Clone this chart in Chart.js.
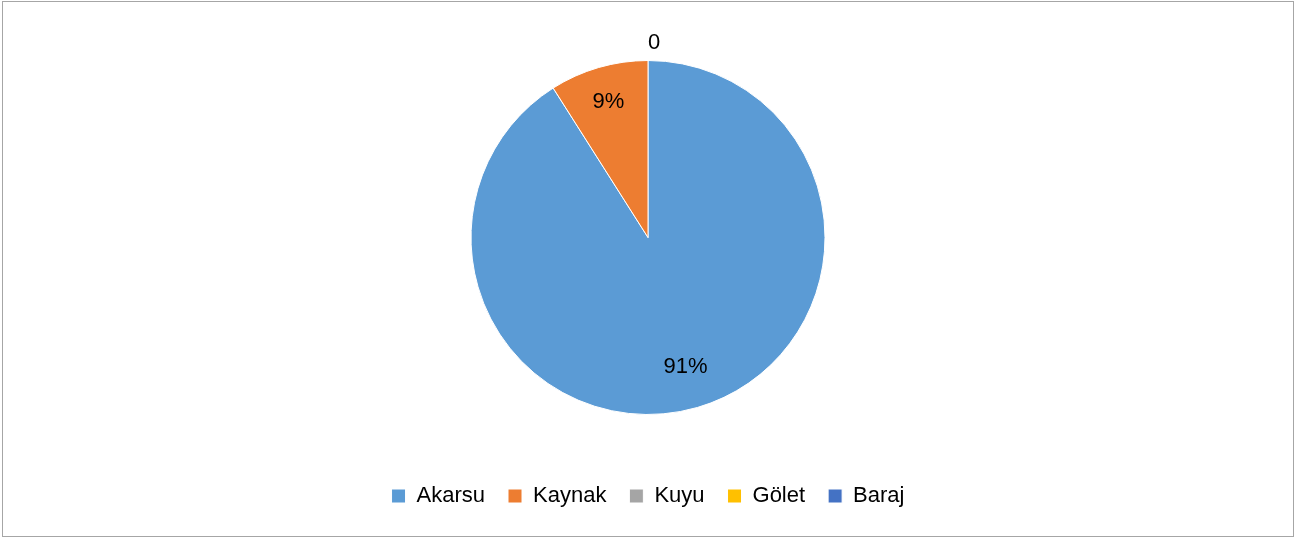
<!DOCTYPE html>
<html>
<head>
<meta charset="utf-8">
<script src="https://cdn.jsdelivr.net/npm/chart.js@4"></script>
<style>
    html, body { margin: 0; padding: 0; background: #fff; }
    #wrap { position: relative; width: 1299px; height: 539px; }
    #frame { position: absolute; left: 2px; top: 1px; width: 1290px; height: 534px; border: 1.5px solid #a6a6a6; box-sizing: content-box; }
    canvas { position: absolute; left: 0; top: 0; }
</style>
</head>
<body>
<div id="wrap">
    <div id="frame"></div>
    <canvas id="pieChart" width="1299" height="539"></canvas>
</div>
<script>
// =====================================
// Data
// =====================================
const categories = ["Akarsu", "Kaynak", "Kuyu", "Gölet", "Baraj"];
const shares = [91, 9, 0, 0, 0];
const sliceColors = ["#5B9BD5", "#ED7D31", "#A5A5A5", "#FFC000", "#4472C4"];

const FONT = "'Liberation Sans', Arial, sans-serif";

// =====================================
// Slice labels (percent inside, 0 outside)
// =====================================
const sliceLabels = {
    id: "sliceLabels",
    afterDatasetsDraw(chart) {
        const ctx = chart.ctx;
        const arcs = chart.getDatasetMeta(0).data;
        const seen = {};
        ctx.save();
        ctx.font = "22px " + FONT;
        ctx.fillStyle = "#000";
        arcs.forEach((arc, i) => {
            const v = shares[i];
            const { x, y, startAngle, endAngle, outerRadius } = arc.getProps(["x", "y", "startAngle", "endAngle", "outerRadius"], true);
            if (v === 0) {
                const px = x + Math.cos(startAngle) * (outerRadius + 12);
                const py = y + Math.sin(startAngle) * (outerRadius + 12);
                const key = Math.round(px) + "_" + Math.round(py);
                if (seen[key]) return;
                seen[key] = true;
                ctx.textAlign = "left";
                ctx.textBaseline = "alphabetic";
                ctx.fillText("0", px, py);
                return;
            }
            const mid = (startAngle + endAngle) / 2;
            const r = outerRadius * (v > 50 ? 0.76 : 0.8);
            ctx.textAlign = "center";
            ctx.textBaseline = "middle";
            ctx.fillText(v + "%", x + Math.cos(mid) * r, y + Math.sin(mid) * r);
        });
        ctx.restore();
    }
};

// =====================================
// Chart
// =====================================
const ctx = document.getElementById("pieChart").getContext("2d");
new Chart(ctx, {
    type: "pie",
    data: {
        labels: categories,
        datasets: [{
            data: shares,
            backgroundColor: sliceColors,
            borderColor: "#ffffff",
            borderWidth: 1,
            radius: 177
        }]
    },
    options: {
        responsive: false,
        animation: false,
        layout: {
            padding: { top: 13, bottom: 22, left: 0, right: 3 }
        },
        plugins: {
            legend: {
                position: "bottom",
                labels: {
                    boxWidth: 14,
                    boxHeight: 14,
                    padding: 23,
                    color: "#000",
                    font: { family: FONT, size: 22 }
                }
            },
            tooltip: { enabled: false }
        }
    },
    plugins: [sliceLabels]
});
</script>
</body>
</html>
